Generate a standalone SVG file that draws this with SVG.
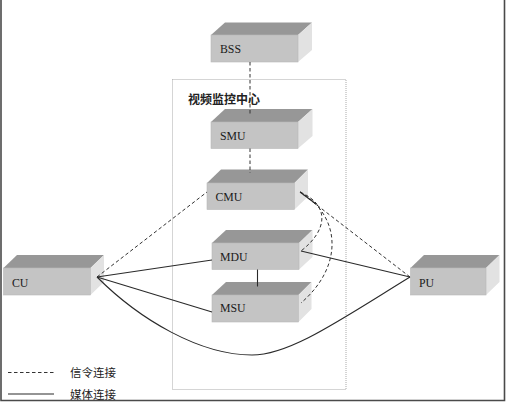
<svg xmlns="http://www.w3.org/2000/svg" width="506" height="402" viewBox="0 0 506 402">
<style>
.front{fill:#c4c4c4;stroke:#b8b8b8;stroke-width:0.6}
.top{fill:#979797}
.side{fill:#e2e2e2}
.lbl{font-family:"Liberation Serif","Times New Roman",serif;font-size:11.8px;fill:#1a1a1a}
.cjk{font-family:"Noto Sans CJK SC","Noto Sans CJK JP",sans-serif;font-size:11.5px;fill:#222}
.sig{fill:none;stroke:#333;stroke-width:1;stroke-dasharray:3.5 2.5}
.med{fill:none;stroke:#2a2a2a;stroke-width:1.1}
</style>
<rect width="506" height="402" fill="#fff"/>
<path d="M1,0 V400.5 H504.5 V0" fill="none" stroke="#4a4a4a" stroke-width="1.6"/>
<rect id="center-frame" x="172.5" y="79.5" width="173.5" height="310" fill="none" stroke="#aaa" stroke-width="1" stroke-dasharray="1 1"/>
<text class="cjk" x="188" y="104" font-weight="bold" style="font-size:12px">视频监控中心</text>

<g id="BSS">
<polygon class="top" points="211,35 225,22.5 312,22.5 298,35"/>
<polygon class="side" points="298,35 312,22.5 312,50 298,62"/>
<rect class="front" x="211" y="35" width="87" height="27"/>
<text class="lbl" x="220" y="53">BSS</text>
</g>
<g id="SMU">
<polygon class="top" points="211,122 225,109 312.5,109 298,122"/>
<polygon class="side" points="298,122 312.5,109 312.5,136 298,148.5"/>
<rect class="front" x="211" y="122" width="87" height="26.5"/>
<text class="lbl" x="220" y="140">SMU</text>
</g>
<g id="CMU">
<polygon class="top" points="207,183 221,169.5 308,169.5 294.5,183"/>
<polygon class="side" points="294.5,183 308,169.5 308,196.5 294.5,209.5"/>
<rect class="front" x="207" y="183" width="87.5" height="26.5"/>
<text class="lbl" x="215.5" y="200.5">CMU</text>
</g>
<g id="MDU">
<polygon class="top" points="212,243 226,230 312.5,230 299,243"/>
<polygon class="side" points="299,243 312.5,230 312.5,257 299,269.5"/>
<rect class="front" x="212" y="243" width="87" height="26.5"/>
<text class="lbl" x="220" y="261">MDU</text>
</g>
<g id="MSU">
<polygon class="top" points="212,295 226,282 311.5,282 298.5,295"/>
<polygon class="side" points="298.5,295 311.5,282 311.5,309 298.5,322"/>
<rect class="front" x="212" y="295" width="86.5" height="27"/>
<text class="lbl" x="220" y="312">MSU</text>
</g>
<g id="CU">
<polygon class="top" points="3.5,268 17,255 104,255 90.5,268"/>
<polygon class="side" points="90.5,268 104,255 104,282 90.5,295"/>
<rect class="front" x="3.5" y="268" width="87" height="27"/>
<text class="lbl" x="12" y="287">CU</text>
</g>
<g id="PU">
<polygon class="top" points="410.5,268 424,255 499.5,255 486,268"/>
<polygon class="side" points="486,268 499.5,255 499.5,282 486,295"/>
<rect class="front" x="410.5" y="268" width="75.5" height="27"/>
<text class="lbl" x="419" y="287">PU</text>
</g>

<g id="connectors">
<line class="sig" x1="250" y1="62" x2="250" y2="115"/>
<line class="sig" x1="250" y1="148.5" x2="250" y2="173"/>
<line class="sig" x1="97" y1="277" x2="207" y2="192"/>
<line class="med" x1="97" y1="277" x2="212" y2="260"/>
<line class="med" x1="97" y1="277" x2="212" y2="312"/>
<path class="med" d="M97,277 C140,320 200,355 252,355 C290,355 340,320 410,277"/>
<line class="med" x1="410" y1="277" x2="301" y2="251"/>
<line class="sig" x1="410" y1="277" x2="300" y2="192"/>
<path class="sig" d="M300,192 C330,205 328,230 301,251"/>
<path class="sig" d="M300,192 C340,215 345,265 301,303"/>
<line class="med" x1="300" y1="192" x2="316" y2="204"/>
<line class="med" x1="257.5" y1="269.5" x2="257.5" y2="286.5"/>
</g>

<g id="legend">
<line class="sig" x1="8" y1="372.5" x2="54" y2="372.5" stroke-dasharray="3 2"/>
<line class="med" x1="8" y1="394" x2="54" y2="394"/>
<text class="cjk" x="70" y="377" fill="#333">信令连接</text>
<text class="cjk" x="70" y="398.5" fill="#333">媒体连接</text>
</g>
</svg>
